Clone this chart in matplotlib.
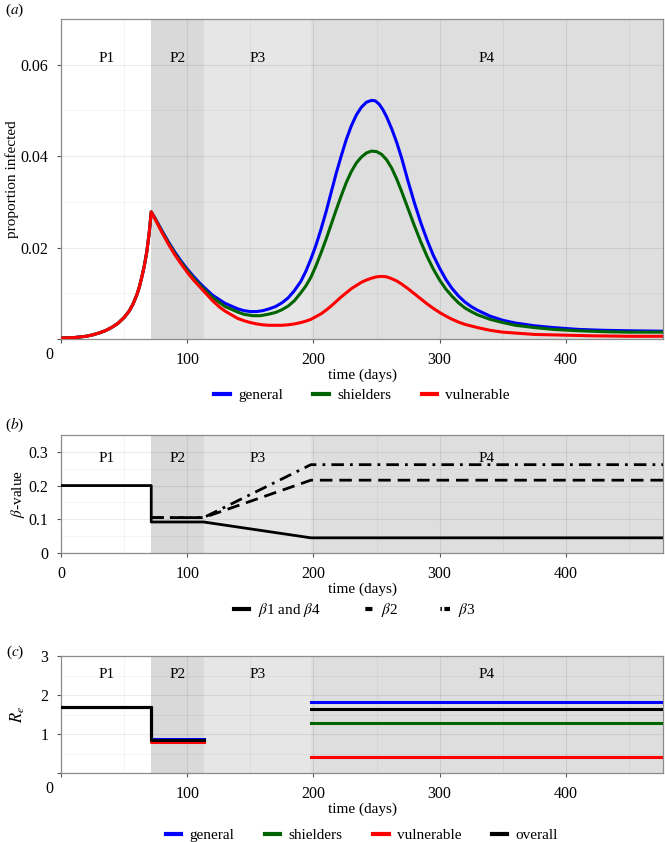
import numpy as np
import matplotlib
matplotlib.use('Agg')
import matplotlib.pyplot as plt
from matplotlib.lines import Line2D
from matplotlib.ticker import MultipleLocator

plt.rcParams['font.family'] = ['Liberation Serif', 'DejaVu Serif']
plt.rcParams['mathtext.fontset'] = 'stix'

# phases (days)
phase_edges = [0, 71.5, 113, 198, 477]
phase_names = ['P1', 'P2', 'P3', 'P4']
phase_fill = ['#ffffff', '#d9d9d9', '#e6e6e6', '#dedede']

# (a) proportion infected
gen_days = [0, 10, 20, 25, 30, 35, 40, 45, 50, 54, 57, 60, 62, 64, 66, 68, 70,
            71.5, 75, 80, 85, 90, 95, 100, 105, 110, 113, 120, 130, 140, 145,
            150, 155, 160, 165, 170, 175, 180, 185, 190, 194, 198, 202, 206,
            210, 214, 218, 222, 226, 230, 234, 238, 242, 246, 249, 252, 255,
            258, 262, 266, 270, 275, 280, 285, 290, 295, 300, 305, 310, 315,
            320, 325, 330, 340, 350, 360, 375, 390, 410, 430, 450, 477]
gen_vals = [0.0002, 0.0003, 0.0006, 0.0009, 0.0013, 0.0018, 0.0025, 0.0034,
            0.0047, 0.0061, 0.0076, 0.0096, 0.0113, 0.0135, 0.0160, 0.0191,
            0.0235, 0.0278, 0.0262, 0.0237, 0.0213, 0.0191, 0.0171, 0.0153,
            0.0137, 0.0122, 0.0114, 0.0096, 0.0078, 0.0066, 0.0062, 0.0060,
            0.0060, 0.0062, 0.0066, 0.0071, 0.0079, 0.0090, 0.0106, 0.0126,
            0.0148, 0.0175, 0.0205, 0.0240, 0.0278, 0.0320, 0.0362, 0.0400,
            0.0436, 0.0466, 0.0490, 0.0507, 0.0518, 0.0522, 0.0521, 0.0514,
            0.0502, 0.0486, 0.0460, 0.0430, 0.0395, 0.0345, 0.0298, 0.0255,
            0.0217, 0.0183, 0.0155, 0.0130, 0.0110, 0.0094, 0.0081, 0.0071,
            0.0063, 0.0050, 0.0041, 0.0035, 0.0029, 0.0025, 0.0021, 0.0019,
            0.0018, 0.0017]

shd_days = [0, 10, 20, 25, 30, 35, 40, 45, 50, 54, 57, 60, 62, 64, 66, 68, 70,
            71.5, 75, 80, 85, 90, 95, 100, 105, 110, 113, 120, 130, 140, 145,
            152, 158, 164, 170, 175, 180, 185, 190, 194, 198, 202, 206, 210,
            214, 218, 222, 226, 230, 234, 238, 242, 246, 250, 254, 258, 262,
            266, 270, 275, 280, 285, 290, 295, 300, 305, 310, 315, 320, 325,
            330, 340, 350, 360, 375, 390, 410, 430, 450, 477]
shd_vals = [0.0002, 0.0003, 0.0006, 0.0009, 0.0013, 0.0018, 0.0025, 0.0034,
            0.0047, 0.0061, 0.0076, 0.0096, 0.0113, 0.0135, 0.0160, 0.0191,
            0.0235, 0.0278, 0.0261, 0.0235, 0.0211, 0.0188, 0.0168, 0.0150,
            0.0133, 0.0118, 0.0110, 0.0091, 0.0071, 0.0059, 0.0054, 0.0051,
            0.0051, 0.0054, 0.0058, 0.0064, 0.0072, 0.0084, 0.0101, 0.0116,
            0.0135, 0.0160, 0.0188, 0.0218, 0.0250, 0.0282, 0.0313, 0.0342,
            0.0366, 0.0385, 0.0398, 0.0407, 0.0411, 0.0410, 0.0404, 0.0392,
            0.0374, 0.0350, 0.0322, 0.0285, 0.0248, 0.0213, 0.0181, 0.0153,
            0.0129, 0.0109, 0.0093, 0.0079, 0.0068, 0.0060, 0.0053, 0.0043,
            0.0036, 0.0030, 0.0025, 0.0021, 0.0018, 0.0016, 0.0015, 0.0015]

vul_days = [0, 10, 20, 25, 30, 35, 40, 45, 50, 54, 57, 60, 62, 64, 66, 68, 70,
            71.5, 75, 80, 85, 90, 95, 100, 105, 110, 113, 120, 126, 130, 140,
            145, 150, 155, 160, 165, 170, 175, 180, 185, 190, 194, 198, 202,
            206, 210, 214, 218, 222, 226, 230, 234, 238, 242, 246, 250, 254,
            258, 262, 266, 270, 275, 280, 285, 290, 295, 300, 305, 310, 315,
            320, 330, 340, 350, 360, 375, 390, 420, 450, 477]
vul_vals = [0.0002, 0.0003, 0.0006, 0.0009, 0.0013, 0.0018, 0.0025, 0.0034,
            0.0047, 0.0061, 0.0076, 0.0096, 0.0113, 0.0135, 0.0160, 0.0191,
            0.0235, 0.0278, 0.0260, 0.0233, 0.0208, 0.0185, 0.0165, 0.0146,
            0.0129, 0.0114, 0.0105, 0.0084, 0.0069, 0.0061, 0.0045, 0.0040,
            0.0036, 0.0033, 0.0031, 0.0030, 0.0030, 0.0030, 0.0031, 0.0033,
            0.0036, 0.0039, 0.0043, 0.0049, 0.0055, 0.0063, 0.0072, 0.0082,
            0.0092, 0.0101, 0.0110, 0.0117, 0.0124, 0.0129, 0.0133, 0.0136,
            0.0137, 0.0136, 0.0132, 0.0127, 0.0120, 0.0110, 0.0099, 0.0088,
            0.0077, 0.0067, 0.0058, 0.0050, 0.0043, 0.0037, 0.0032, 0.0025,
            0.0019, 0.0015, 0.0013, 0.0010, 0.0009, 0.0007, 0.0006, 0.0006]

# (b) beta values
b14_days = [0, 71.5, 71.5, 113, 198, 477]
b14_vals = [0.200, 0.200, 0.092, 0.092, 0.045, 0.045]
b2_days = [71.5, 113, 198, 477]
b2_vals = [0.105, 0.105, 0.216, 0.216]
b3_days = [71.5, 113, 198, 477]
b3_vals = [0.105, 0.105, 0.262, 0.262]

# (c) effective R per phase (nan = not shown)
re_general = [1.70, 0.88, np.nan, 1.81]
re_shielders = [1.70, 0.84, np.nan, 1.28]
re_vulnerable = [1.70, 0.79, np.nan, 0.40]
re_overall = [1.70, 0.85, np.nan, 1.64]

blue, green, red = '#0000ff', '#006400', '#ff0000'
W, H = 665, 842
fig = plt.figure(figsize=(W / 100, H / 100), dpi=100)

leg_kw = dict(loc='center', frameon=False, fontsize=11, handlelength=1.0,
              handletextpad=0.55, columnspacing=2.0, borderpad=0)


def panel(top, bottom, ymax, label_frac):
    h = bottom - top
    ax = fig.add_axes([61 / W, 1 - bottom / H, 602 / W, h / H])
    ax.set_xlim(0, 477)
    ax.set_ylim(0, ymax)
    for i in range(4):
        ax.axvspan(phase_edges[i], phase_edges[i + 1], color=phase_fill[i],
                   lw=0, zorder=0.2)
        ax.text((phase_edges[i] + phase_edges[i + 1]) / 2, label_frac * ymax,
                phase_names[i], ha='center', va='center', fontsize=11)
    ax.set_axisbelow(True)
    ax.xaxis.set_minor_locator(MultipleLocator(50))
    ax.grid(which='major', color='black', alpha=0.08, lw=0.8)
    ax.grid(which='minor', color='black', alpha=0.05, lw=0.6)
    ax.tick_params(which='major', direction='out', length=3, width=0.8,
                   color='#555555', labelsize=11.5, pad=6)
    ax.tick_params(which='minor', length=0)
    for s in ax.spines.values():
        s.set_color('#8c8c8c')
        s.set_linewidth(0.9)
    ax.set_xticks([0, 100, 200, 300, 400])
    ax.set_xlabel('time (days)', fontsize=11, va='center')
    ax.xaxis.set_label_coords(0.5, -36 / h)
    return ax


def zero_label(ax):
    # the "0" under the corner sits left of the axis origin
    ax.set_xticklabels(['', '100', '200', '300', '400'])
    ax.annotate('0', xy=(0, 0), xycoords='axes fraction', xytext=(-12, -16),
                textcoords='offset pixels', ha='center', va='center',
                fontsize=11.5)


# ---------- (a) ----------
ax1 = panel(19, 339, 0.07, 0.878)
ax1.set_yticks([0, 0.02, 0.04, 0.06])
ax1.set_yticklabels(['', '0.02', '0.04', '0.06'])
ax1.yaxis.set_minor_locator(MultipleLocator(0.01))
zero_label(ax1)
ax1.plot(gen_days, gen_vals, color=blue, lw=2.2, zorder=3)
ax1.plot(shd_days, shd_vals, color=green, lw=2.2, zorder=3)
ax1.plot(vul_days, vul_vals, color=red, lw=2.2, zorder=3)
ax1.set_ylabel('proportion infected', fontsize=11, va='center')
ax1.yaxis.set_label_coords(-49 / 602, 0.5)
fig.text(15 / W, 1 - 10 / H, r'($a$)', ha='center', va='center', fontsize=11)
h1 = [Line2D([], [], color=c, lw=3) for c in (blue, green, red)]
fig.legend(h1, ['general', 'shielders', 'vulnerable'],
           bbox_to_anchor=(362 / W, 1 - 395 / H), ncol=3, **leg_kw)

# ---------- (b) ----------
ax2 = panel(435, 553, 0.35, 0.805)
ax2.set_yticks([0, 0.1, 0.2, 0.3])
ax2.set_yticklabels(['0', '0.1', '0.2', '0.3'])
ax2.yaxis.set_minor_locator(MultipleLocator(0.05))
ax2.plot(b3_days, b3_vals, color='black', lw=2.0, dashes=(4.5, 2.2, 1, 2.2),
         zorder=3)
ax2.plot(b2_days, b2_vals, color='black', lw=2.0, dashes=(4.5, 2.5), zorder=3)
ax2.plot(b14_days, b14_vals, color='black', lw=2.0, zorder=3)
ax2.set_ylabel(r'$\beta$-value', fontsize=11, va='center')
ax2.yaxis.set_label_coords(-43 / 602, 0.5)
fig.text(15 / W, 1 - 425 / H, r'($b$)', ha='center', va='center', fontsize=11)
# legend keys show only a piece of the dash pattern
h2 = [Line2D([], [], color='black', lw=3),
      Line2D([], [], color='black', lw=3, linestyle=(1.7, (1.7, 2.0))),
      Line2D([], [], color='black', lw=3,
             linestyle=(2.35, (0.35, 0.6, 1.4, 1.3)))]
fig.legend(h2, [r'$\beta$1 and $\beta$4', r'$\beta$2', r'$\beta$3'],
           bbox_to_anchor=(355 / W, 1 - 610 / H), ncol=3,
           **dict(leg_kw, columnspacing=2.4))

# ---------- (c) ----------
ax3 = panel(656, 773, 3, 0.838)
ax3.set_yticks([0, 1, 2, 3])
ax3.set_yticklabels(['', '1', '2', '3'])
ax3.yaxis.set_minor_locator(MultipleLocator(0.5))
zero_label(ax3)
e = phase_edges
for vals, col in ((re_general, blue), (re_shielders, green),
                  (re_vulnerable, red), (re_overall, 'black')):
    ax3.plot([e[0], e[1], e[1], e[2]], [vals[0], vals[0], vals[1], vals[1]],
             color=col, lw=2.2, zorder=3)
    ax3.plot([e[3], e[4]], [vals[3], vals[3]], color=col, lw=2.2, zorder=3)
ax3.set_ylabel(r'$R_e$', fontsize=12, va='center')
ax3.yaxis.set_label_coords(-43 / 602, 0.5)
fig.text(15 / W, 1 - 652 / H, r'($c$)', ha='center', va='center', fontsize=11)
h3 = [Line2D([], [], color=c, lw=3) for c in (blue, green, red, 'black')]
fig.legend(h3, ['general', 'shielders', 'vulnerable', 'overall'],
           bbox_to_anchor=(362 / W, 1 - 835 / H), ncol=4, **leg_kw)

fig.savefig('out.png', dpi=100)
